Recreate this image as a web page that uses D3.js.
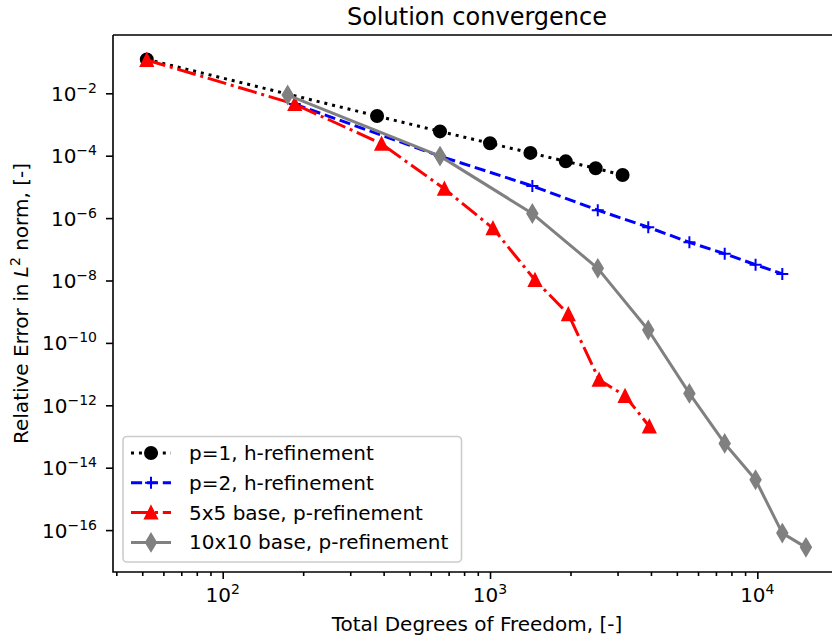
<!DOCTYPE html>
<html>
<head>
<meta charset="utf-8">
<script src="https://cdn.jsdelivr.net/npm/d3@7"></script>
<style>
  html, body { margin: 0; padding: 0; background: #fff; }
  svg { display: block; }
  text { font-family: "DejaVu Sans", sans-serif; fill: #000; }
</style>
</head>
<body>
<svg id="chart" width="832" height="641"></svg>
<script>
// ---- data ----
const dofP1 = [52, 378, 650, 1000, 1416, 1920, 2484, 3133];
const errP1 = [0.122, 1.87e-3, 6.0e-4, 2.5e-4, 1.23e-4, 6.6e-5, 3.95e-5, 2.4e-5];

const dofP2 = [186, 650, 1440, 2530, 3908, 5570, 7550, 9850, 12400];
const errP2 = [4.5e-3, 9.7e-5, 1.07e-5, 1.8e-6, 5.1e-7, 1.67e-7, 7.2e-8, 3.2e-8, 1.63e-8];

const dofR5 = [52, 186, 393, 675, 1026, 1473, 1963, 2560, 3200, 3945];
const errR5 = [0.117, 4.5e-3, 2.4e-4, 8.7e-6, 4.7e-7, 1.04e-8, 8.3e-10, 6.6e-12, 2.0e-12, 2.1e-13];

const dofR10 = [175, 650, 1440, 2530, 3908, 5570, 7550, 9850, 12400, 15200];
const errR10 = [8.8e-3, 9.7e-5, 1.4e-6, 2.45e-8, 2.6e-10, 2.4e-12, 6.0e-14, 4.1e-15, 8.0e-17, 2.8e-17];

const seriesNames = ["p=1, h-refinement", "p=2, h-refinement", "5x5 base, p-refinement", "10x10 base, p-refinement"];
const xTickExps = [2, 3, 4];
const yTickExps = [-2, -4, -6, -8, -10, -12, -14, -16];
const titleText = "Solution convergence";
const xLabelText = "Total Degrees of Freedom, [-]";

// ---- layout ----
const L = 113, R = 841, T = 35, B = 572;
const svg = d3.select("#chart");

const x = d3.scaleLog().domain([Math.pow(10, 1.5896), Math.pow(10, 4.313)]).range([L, R]);
const y = d3.scaleLog().domain([Math.pow(10, -17.343), Math.pow(10, -0.1314)]).range([B, T]);

const series = [
  {name: seriesNames[0], dof: dofP1, err: errP1, color: "#000000", dash: "3,4.95", marker: "circle"},
  {name: seriesNames[1], dof: dofP2, err: errP2, color: "#0000ff", dash: "11.1,4.8", marker: "plus"},
  {name: seriesNames[2], dof: dofR5, err: errR5, color: "#ff0000", dash: "19.2,4.8,3,4.8", marker: "triangle"},
  {name: seriesNames[3], dof: dofR10, err: errR10, color: "#808080", dash: null, marker: "diamond"}
];

function drawMarker(g, type, cx, cy, color) {
  if (type === "circle") {
    g.append("circle").attr("cx", cx).attr("cy", cy).attr("r", 6)
      .attr("fill", color).attr("stroke", color).attr("stroke-width", 2);
  } else if (type === "plus") {
    g.append("path").attr("d", `M${cx-6},${cy}H${cx+6}M${cx},${cy-6}V${cy+6}`)
      .attr("stroke", color).attr("stroke-width", 2).attr("fill", "none");
  } else if (type === "triangle") {
    g.append("path").attr("d", `M${cx},${cy-6}L${cx+6},${cy+6}L${cx-6},${cy+6}Z`)
      .attr("fill", color).attr("stroke", color).attr("stroke-width", 2).attr("stroke-linejoin", "miter");
  } else if (type === "diamond") {
    const h = 8.49, w = 0.6 * 8.49;
    g.append("path").attr("d", `M${cx},${cy-h}L${cx+w},${cy}L${cx},${cy+h}L${cx-w},${cy}Z`)
      .attr("fill", color).attr("stroke", color).attr("stroke-width", 2).attr("stroke-linejoin", "miter");
  }
}

// clip
svg.append("defs").append("clipPath").attr("id", "clip")
  .append("rect").attr("x", L).attr("y", T).attr("width", R - L).attr("height", B - T);

const plot = svg.append("g").attr("clip-path", "url(#clip)");
const line = d3.line().x(d => x(d[0])).y(d => y(d[1]));

series.forEach(s => {
  const pts = s.dof.map((d, i) => [d, s.err[i]]);
  const g = plot.append("g");
  const p = g.append("path").attr("d", line(pts)).attr("fill", "none")
    .attr("stroke", s.color).attr("stroke-width", 3).attr("stroke-linecap", "butt")
    .attr("stroke-linejoin", "round");
  if (s.dash) p.attr("stroke-dasharray", s.dash);
  pts.forEach(d => drawMarker(g, s.marker, x(d[0]), y(d[1]), s.color));
});

// ---- axes ----
const axes = svg.append("g");
// spines
axes.append("path").attr("d", `M${L},${T}H${R}M${L},${T}V${B}H${R}`)
  .attr("fill", "none").attr("stroke", "#000").attr("stroke-width", 1.6);

// x ticks (major and minor)
const xMajor = xTickExps.map(e => Math.pow(10, e));
const xMinor = [];
[1, 2, 3, 4].forEach(e => { for (let k = 2; k <= 9; k++) { const v = k * Math.pow(10, e); if (x(v) >= L && x(v) <= R) xMinor.push(v); } });

const xAxisG = axes.append("g").attr("transform", `translate(0,${B})`);
xAxisG.call(d3.axisBottom(x).tickValues(xMinor).tickSize(4).tickFormat(""));
const xAxisMajor = axes.append("g").attr("transform", `translate(0,${B})`);
xAxisMajor.call(d3.axisBottom(x).tickValues(xMajor).tickSize(7).tickFormat(""));
[xAxisG, xAxisMajor].forEach(g => {
  g.select(".domain").remove();
  g.selectAll(".tick line").attr("stroke", "#000").attr("stroke-width", 1.6);
});
xTickExps.forEach(e => {
  const t = axes.append("text").attr("x", x(Math.pow(10, e))).attr("y", 602)
    .attr("text-anchor", "middle").style("font-size", "20px");
  t.append("tspan").text("10");
  t.append("tspan").attr("dy", -8).style("font-size", "14px").text(String(e));
});

// y ticks
const yAxisG = axes.append("g").attr("transform", `translate(${L},0)`);
yAxisG.call(d3.axisLeft(y).tickValues(yTickExps.map(e => Math.pow(10, e))).tickSize(7).tickFormat(""));
yAxisG.select(".domain").remove();
yAxisG.selectAll(".tick line").attr("stroke", "#000").attr("stroke-width", 1.6);
yTickExps.forEach(e => {
  const t = axes.append("text").attr("x", 97).attr("y", y(Math.pow(10, e)) + 7.5)
    .attr("text-anchor", "end").style("font-size", "20px");
  t.append("tspan").text("10");
  t.append("tspan").attr("dy", -8).style("font-size", "14px").text("\u2212" + String(-e));
});

// title and labels
svg.append("text").attr("x", (L + R) / 2).attr("y", 25).attr("text-anchor", "middle")
  .style("font-size", "24px").text(titleText);
svg.append("text").attr("x", (L + R) / 2).attr("y", 631).attr("text-anchor", "middle")
  .style("font-size", "20px").text(xLabelText);
const yl = svg.append("text").attr("transform", `translate(27.5,${(T + B) / 2}) rotate(-90)`)
  .attr("text-anchor", "middle").style("font-size", "20px");
yl.append("tspan").text("Relative Error in ");
yl.append("tspan").style("font-style", "italic").text("L");
yl.append("tspan").attr("dy", -8).style("font-size", "14px").text("2");
yl.append("tspan").attr("dy", 8).text(" norm, [-]");

// ---- legend ----
const lg = svg.append("g");
lg.append("rect").attr("x", 123).attr("y", 436.5).attr("width", 338.5).attr("height", 125.5)
  .attr("rx", 4).attr("ry", 4).attr("fill", "#fff").attr("fill-opacity", 0.8)
  .attr("stroke", "#cccccc").attr("stroke-width", 1.6);
series.forEach((s, i) => {
  const cy = 453 + i * 29.8;
  const p = lg.append("path").attr("d", `M131,${cy}H171`).attr("stroke", s.color)
    .attr("stroke-width", 3).attr("fill", "none");
  if (s.dash) p.attr("stroke-dasharray", s.dash);
  drawMarker(lg, s.marker, 151, cy, s.color);
  lg.append("text").attr("x", 189).attr("y", cy + 7).style("font-size", "20px").text(s.name);
});
</script>
</body>
</html>
